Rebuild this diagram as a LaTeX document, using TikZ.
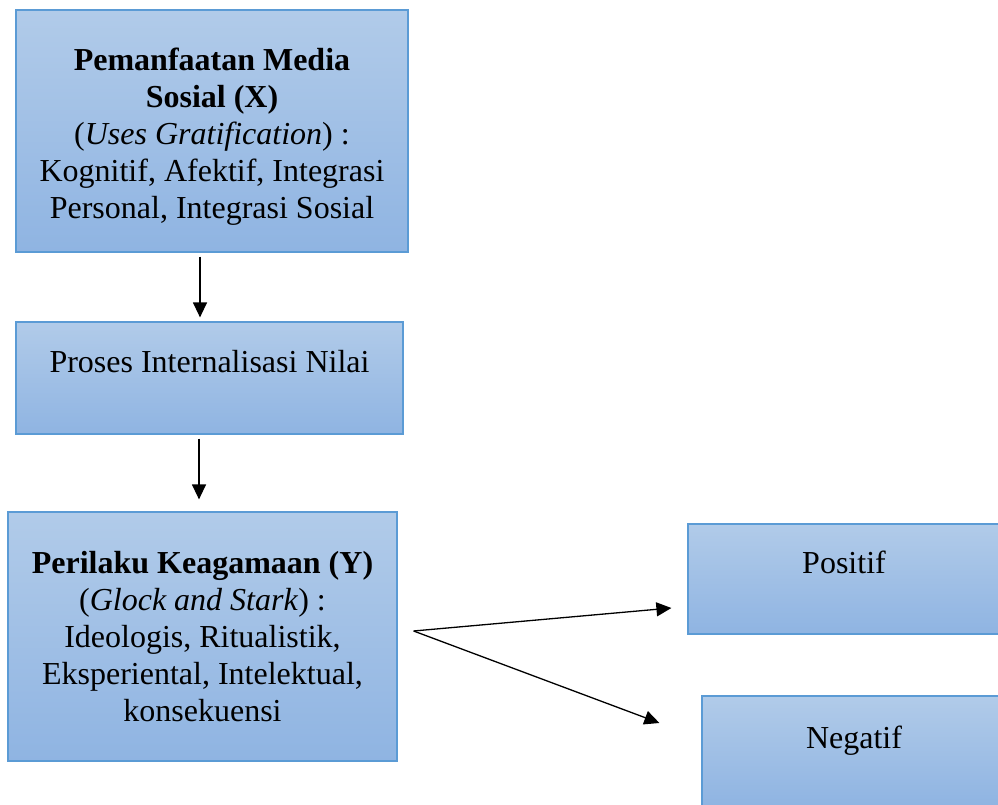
\documentclass[tikz,border=0pt]{standalone}
\usepackage{fontspec}
\setmainfont{Liberation Serif}
\usetikzlibrary{arrows.meta}
\definecolor{boxtop}{RGB}{177,203,233}
\definecolor{boxbot}{RGB}{143,180,226}
\definecolor{boxline}{RGB}{91,155,213}
\begin{document}
\begin{tikzpicture}[x=1pt,y=1pt,
  kotak/.style={draw=boxline, line width=1.2pt, top color=boxtop, bottom color=boxbot,
    align=center, font=\fontsize{32}{37}\selectfont, inner sep=0pt},
  panah/.style={line width=1.3pt, -{Triangle[length=15pt,width=14pt]}}]
\useasboundingbox (0,0) rectangle (998,805);
\node[kotak, minimum width=392, minimum height=242, text depth=0pt] (X) at (212,674)
  {\rule{0pt}{28pt}\textbf{Pemanfaatan Media}\\ \textbf{Sosial (X)}\\ (\textit{Uses Gratification}) :\\
   Kognitif, Afektif, Integrasi\\ Personal, Integrasi Sosial};
\node[kotak, minimum width=387, minimum height=112, text depth=34pt] (nilai) at (209.5,427)
  {Proses Internalisasi Nilai};
\node[kotak, minimum width=389, minimum height=249] (Y) at (202.5,168.5)
  {\textbf{Perilaku Keagamaan (Y)}\\ (\textit{Glock and Stark}) :\\ Ideologis, Ritualistik,\\
   Eksperiental, Intelektual,\\ konsekuensi};
\node[kotak, minimum width=312, minimum height=110, text depth=34pt] (pos) at (844,226)
  {Positif};
\node[kotak, minimum width=304, minimum height=110, text depth=28pt] (neg) at (854,54)
  {Negatif};
\draw[panah] ([shift={(-12,-4)}]X.south) -- ([shift={(-9.5,4)}]nilai.north);
\draw[panah] ([shift={(-10.5,-4)}]nilai.south) -- ([shift={(-3.5,12)}]Y.north);
\coordinate (cabang) at ([shift={(16,5.5)}]Y.east);
\draw[panah] (cabang) -- ([shift={(-16,-29)}]pos.west);
\draw[panah] (cabang) -- ([shift={(-42,28)}]neg.west);
\end{tikzpicture}
\end{document}
